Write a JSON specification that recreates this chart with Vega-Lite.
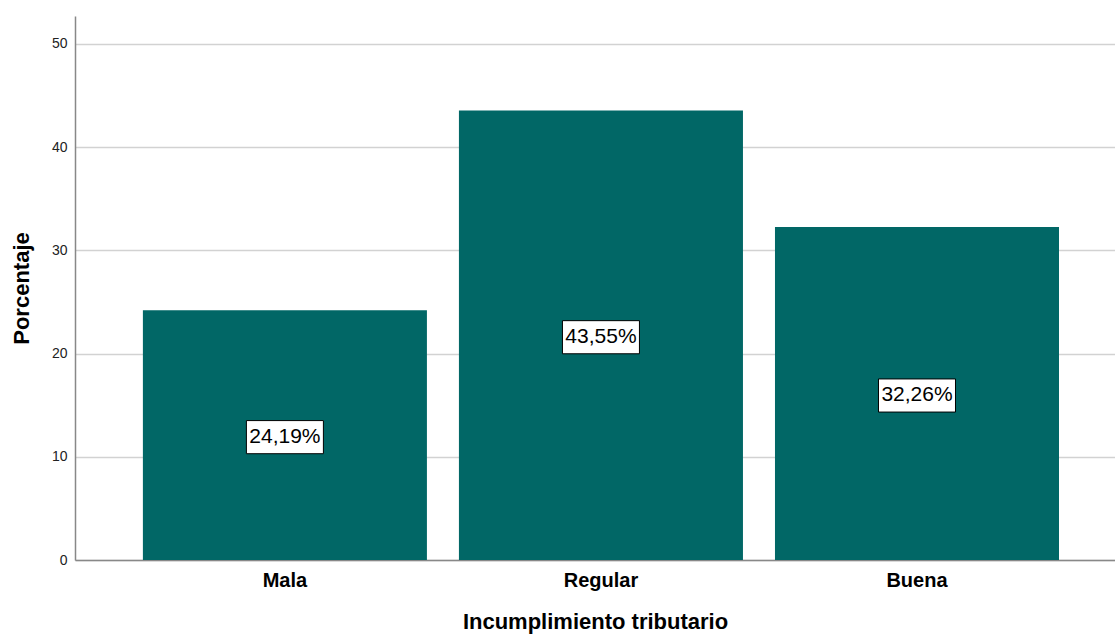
{
  "$schema": "https://vega.github.io/schema/vega-lite/v6.json",
  "autosize": {"type": "none"},
  "padding": {"left": 75, "top": 16, "right": 0, "bottom": 74},
  "width": 1040,
  "height": 544,
  "background": "white",
  "config": {
    "view": {"stroke": null},
    "font": "Liberation Sans"
  },
  "data": {
    "values": [
      {"categoria": "Mala", "porcentaje": 24.19, "etiqueta": "24,19%"},
      {"categoria": "Regular", "porcentaje": 43.55, "etiqueta": "43,55%"},
      {"categoria": "Buena", "porcentaje": 32.26, "etiqueta": "32,26%"}
    ]
  },
  "encoding": {
    "x": {
      "field": "categoria",
      "type": "nominal",
      "sort": ["Mala", "Regular", "Buena"],
      "scale": {"paddingInner": 0.1013, "paddingOuter": 0.196, "align": 0.548},
      "axis": {
        "title": "Incumplimiento tributario",
        "labelAngle": 0,
        "labelFont": "Liberation Sans",
        "labelFontSize": 20,
        "labelFontWeight": "bold",
        "labelColor": "#000000",
        "labelPadding": 10,
        "ticks": false,
        "domainColor": "#888888",
        "domainWidth": 1.5,
        "titleFont": "Liberation Sans",
        "titleFontSize": 22,
        "titleFontWeight": "bold",
        "titleColor": "#000000",
        "titleBaseline": "alphabetic",
        "titleY": 68
      }
    }
  },
  "layer": [
    {
      "mark": {"type": "bar", "color": "#016766"},
      "encoding": {
        "y": {
          "field": "porcentaje",
          "type": "quantitative",
          "scale": {"domain": [0, 52.7], "nice": false},
          "axis": {
            "title": "Porcentaje",
            "values": [0, 10, 20, 30, 40, 50],
            "ticks": false,
            "grid": true,
            "gridColor": "#d2d2d2",
            "gridWidth": 1.5,
            "domainColor": "#888888",
            "domainWidth": 1.5,
            "labelFont": "Liberation Sans",
            "labelFontSize": 14,
            "labelColor": "#222222",
            "labelPadding": 8,
            "titleFont": "Liberation Sans",
            "titleFontSize": 22,
            "titleFontWeight": "bold",
            "titleColor": "#000000",
            "titleBaseline": "alphabetic",
            "titleX": -47
          }
        }
      }
    },
    {
      "transform": [{"calculate": "datum.porcentaje / 2", "as": "mitad"}],
      "mark": {
        "type": "point",
        "shape": "M-1,-0.43H1V0.43H-1Z",
        "size": 5929,
        "filled": true,
        "fill": "white",
        "stroke": "#000000",
        "strokeWidth": 1,
        "opacity": 1,
        "yOffset": 2
      },
      "encoding": {
        "y": {"field": "mitad", "type": "quantitative"}
      }
    },
    {
      "transform": [{"calculate": "datum.porcentaje / 2", "as": "mitad"}],
      "mark": {
        "type": "text",
        "font": "Liberation Sans",
        "fontSize": 21,
        "color": "#000000",
        "baseline": "middle",
        "align": "center",
        "dy": 2
      },
      "encoding": {
        "y": {"field": "mitad", "type": "quantitative"},
        "text": {"field": "etiqueta"}
      }
    }
  ]
}
